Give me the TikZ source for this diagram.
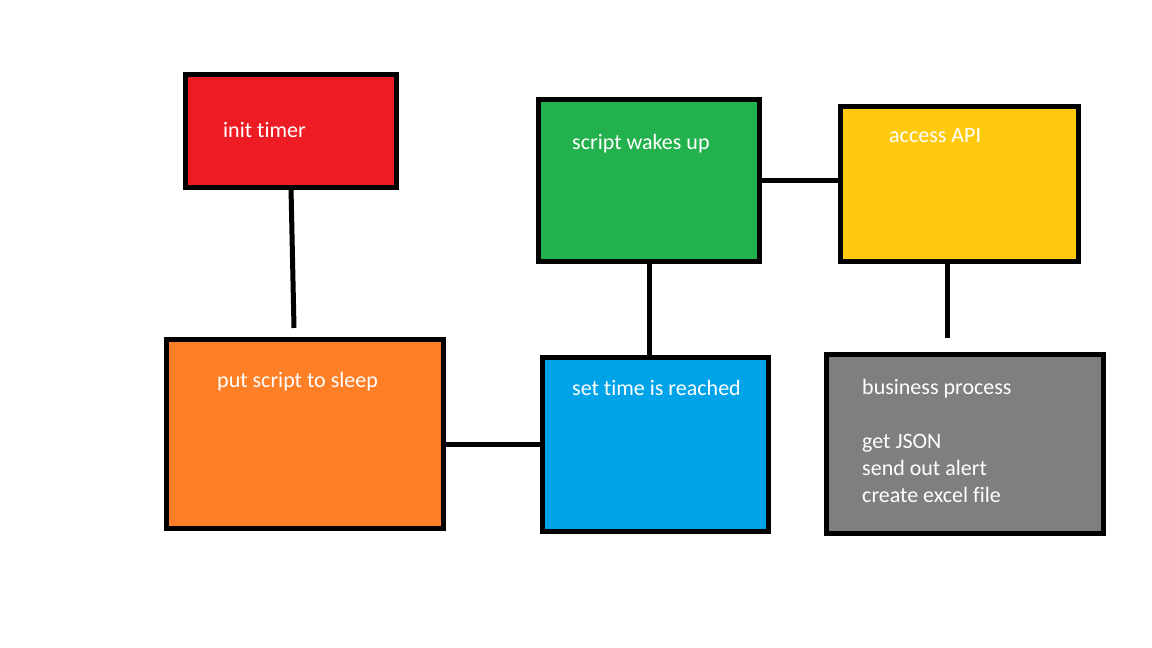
\documentclass[tikz,border=0pt]{standalone}
\usepackage{fontspec}
\setmainfont{Carlito}[Ligatures=NoCommon]
\definecolor{pred}{HTML}{ED1C24}
\definecolor{porange}{HTML}{FF7F27}
\definecolor{pblue}{HTML}{00A2E8}
\definecolor{pgreen}{HTML}{22B14C}
\definecolor{pyellow}{HTML}{FFC90E}
\definecolor{pgray}{HTML}{7F7F7F}
\begin{document}
\begin{tikzpicture}[x=1pt,y=-1pt,
  box/.style={draw=black,line width=5.5pt,inner sep=0pt,outer sep=0pt,rectangle},
  lbl/.style={text=white,inner sep=0pt,anchor=base west,font=\fontsize{22pt}{27pt}\selectfont},
  conn/.style={line width=5pt}]
\useasboundingbox[fill=white] (0,0) rectangle (1152,648);
\node[box,fill=pred,minimum width=211pt,minimum height=113pt] (red) at (291,131) {};
\node[box,fill=porange,minimum width=277pt,minimum height=189pt] (orange) at (305,434) {};
\node[box,fill=pblue,minimum width=226pt,minimum height=174pt] (blue) at (655.5,444.5) {};
\node[box,fill=pgreen,minimum width=221pt,minimum height=162pt] (green) at (649,180.5) {};
\node[box,fill=pyellow,minimum width=238pt,minimum height=155pt] (yellow) at (959.5,184) {};
\node[box,fill=pgray,minimum width=277pt,minimum height=179pt] (gray) at (965,444) {};
\node[lbl] (tred) at (223,137) {init timer};
\node[lbl] (torange) at (217,387) {put script to sleep};
\node[lbl] (tblue) at (572,395) {set time is reached};
\node[lbl] (tgreen) at (572,149) {script wakes up};
\node[lbl] (tyellow) at (889,142) {access API};
\node[lbl,align=left,anchor=north west] (tgray) at (862,379) {business process\\[27pt]get JSON\\send out alert\\create excel file};
\coordinate (rend) at (294,328);
\coordinate (yend) at (947,338);
\draw[conn] (red.south) -- (rend);
\draw[conn] (blue.west) -- (blue.west -| orange.east);
\draw[conn] (green.south) -- (green.south |- blue.north);
\draw[conn] (green.east) -- (green.east -| yellow.west);
\draw[conn] (yellow.south -| yend) -- (yend);
\end{tikzpicture}
\end{document}
